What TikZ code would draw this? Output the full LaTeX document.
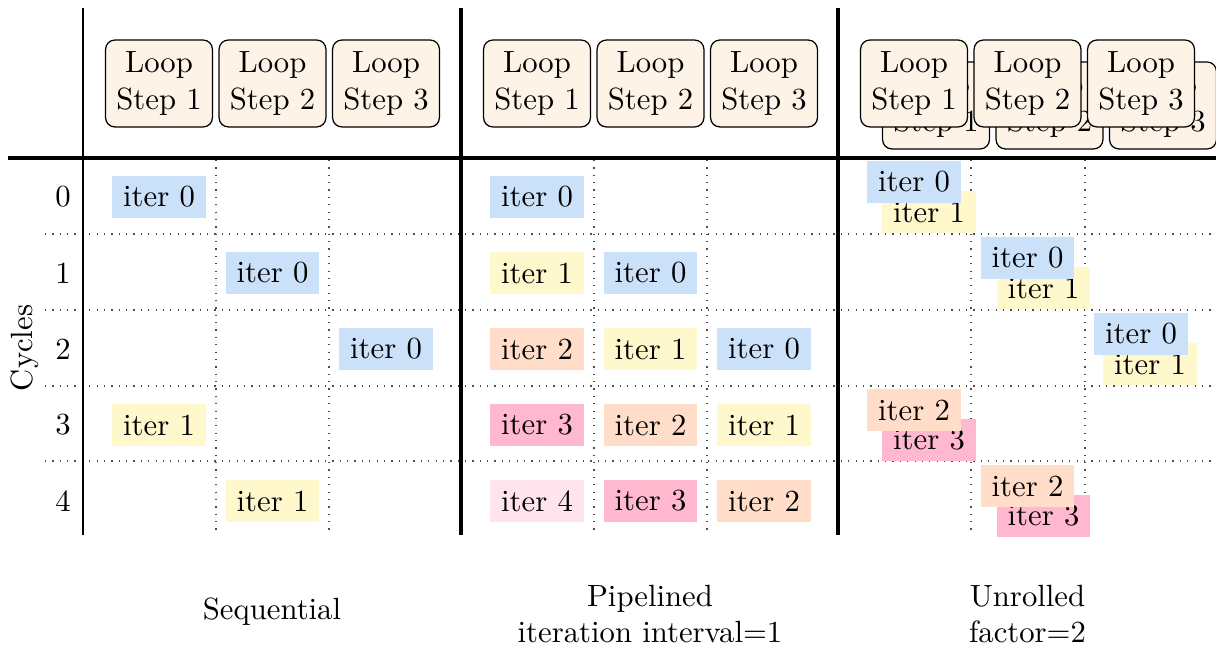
\documentclass[tikz,border=0pt]{standalone}
\definecolor{cblue}{RGB}{203,225,250}
\definecolor{cyellow}{RGB}{255,248,205}
\definecolor{cpeach}{RGB}{255,221,200}
\definecolor{cpink}{RGB}{255,184,206}
\definecolor{clpink}{RGB}{255,228,237}
\definecolor{cloop}{RGB}{253,243,231}
\tikzset{
  loopbox/.style={draw=black, fill=cloop, rounded corners=3pt, minimum width=34.8pt, minimum height=28.3pt, inner sep=0pt, align=center, line width=0.4pt},
  iterbox/.style={minimum width=30.6pt, minimum height=13.7pt, inner sep=0pt},
  thinline/.style={line width=0.45pt},
  thickline/.style={line width=1.2pt},
  gridline/.style={dotted, line width=0.4pt, black!70},
}
\begin{document}
\begin{tikzpicture}[x=0.3257pt, y=-0.3257pt]
\useasboundingbox (0,0) rectangle (1216,648);
% grid dotted lines
\foreach \yy in {234,310,386,461} \draw[gridline] (45,\yy) -- (1216,\yy);
\foreach \xx in {216,329,594,707,971,1085} \draw[gridline] (\xx,160) -- (\xx,535);
% frame lines
\draw[thinline] (83,8) -- (83,535);
\draw[thickline] (461,8) -- (461,535);
\draw[thickline] (838,8) -- (838,535);
\draw[thickline] (8,158) -- (1216,158);
% row labels
\foreach \r/\yy in {0/197,1/273,2/349,3/425,4/501}
  \node[anchor=center] (row\r) at (63,\yy) {\r};
\node[rotate=90] (cycles) at (25,348) {Cycles};
% loop step headers: sequential and pipelined
\foreach \s/\xo in {seq/83,pip/461}{
  \foreach \k/\dx in {1/76,2/189.5,3/303}
    \node[loopbox] (\s-step\k) at (\xo+\dx,83.5) {Loop\\Step \k};
}
% unrolled: back copies then front
\foreach \k/\dx in {1/76,2/189.5,3/303}
  \node[loopbox] (unr-back\k) at (838+\dx+22,105.5) {Loop\\Step \k};
\foreach \k/\dx in {1/76,2/189.5,3/303}
  \node[loopbox] (unr-step\k) at (838+\dx,83.5) {Loop\\Step \k};
% sequential
\node[iterbox, fill=cblue]   (seq-a) at (159,197) {iter 0};
\node[iterbox, fill=cblue]   (seq-b) at (272.5,273) {iter 0};
\node[iterbox, fill=cblue]   (seq-c) at (386,349) {iter 0};
\node[iterbox, fill=cyellow] (seq-d) at (159,425) {iter 1};
\node[iterbox, fill=cyellow] (seq-e) at (272.5,501) {iter 1};
% pipelined
\node[iterbox, fill=cblue]   (pip-00) at (537,197) {iter 0};
\node[iterbox, fill=cyellow] (pip-10) at (537,273) {iter 1};
\node[iterbox, fill=cblue]   (pip-11) at (650.5,273) {iter 0};
\node[iterbox, fill=cpeach]  (pip-20) at (537,349) {iter 2};
\node[iterbox, fill=cyellow] (pip-21) at (650.5,349) {iter 1};
\node[iterbox, fill=cblue]   (pip-22) at (764,349) {iter 0};
\node[iterbox, fill=cpink]   (pip-30) at (537,425) {iter 3};
\node[iterbox, fill=cpeach]  (pip-31) at (650.5,425) {iter 2};
\node[iterbox, fill=cyellow] (pip-32) at (764,425) {iter 1};
\node[iterbox, fill=clpink]  (pip-40) at (537,501) {iter 4};
\node[iterbox, fill=cpink]   (pip-41) at (650.5,501) {iter 3};
\node[iterbox, fill=cpeach]  (pip-42) at (764,501) {iter 2};
% unrolled (back first, front on top)
\foreach \n/\xx/\yy/\bx/\ca/\ta/\cb/\tb in {
  0/914/197/15/cblue/iter 0/cyellow/iter 1,
  1/1027.5/273/16/cblue/iter 0/cyellow/iter 1,
  2/1141/349/9/cblue/iter 0/cyellow/iter 1,
  3/914/425/15/cpeach/iter 2/cpink/iter 3,
  4/1027.5/501/16/cpeach/iter 2/cpink/iter 3}{
  \node[iterbox, fill=\cb] (unr-b\n) at (\xx+\bx,\yy+15) {\tb};
  \node[iterbox, fill=\ca] (unr-f\n) at (\xx,\yy-15) {\ta};
}
% captions
\node (cap-seq) at (272,612) {Sequential};
\node[align=center] (cap-pip) at (650,614) {Pipelined\\iteration interval=1};
\node[align=center] (cap-unr) at (1027.5,614) {Unrolled\\factor=2};
\end{tikzpicture}
\end{document}
